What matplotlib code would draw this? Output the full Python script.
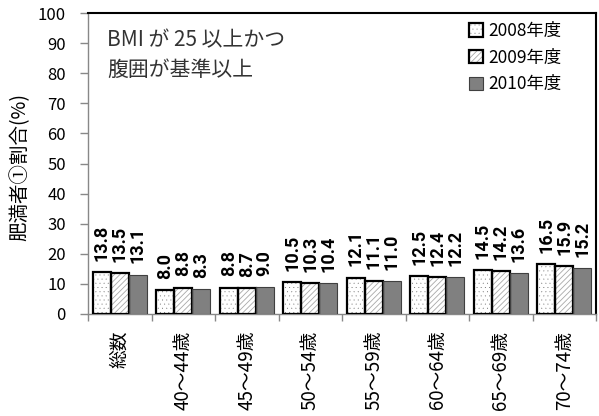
import matplotlib
matplotlib.use("Agg")
import matplotlib.pyplot as plt
import matplotlib.hatch as mhatch
import numpy as np
from matplotlib.patches import Patch

plt.rcParams['font.family'] = ['Noto Sans CJK JP', 'DejaVu Sans']
plt.rcParams['hatch.linewidth'] = 0.6
mhatch.SmallFilledCircles.size = 0.022

categories = ["総数", "40～44歳", "45～49歳", "50～54歳", "55～59歳", "60～64歳", "65～69歳", "70～74歳"]
series_names = ["2008年度", "2009年度", "2010年度"]
v2008 = [13.8, 8.0, 8.8, 10.5, 12.1, 12.5, 14.5, 16.5]
v2009 = [13.5, 8.8, 8.7, 10.3, 11.1, 12.4, 14.2, 15.9]
v2010 = [13.1, 8.3, 9.0, 10.4, 11.0, 12.2, 13.6, 15.2]
yticks = [0, 10, 20, 30, 40, 50, 60, 70, 80, 90, 100]
ylabel = "肥満者①割合(%)"
note_lines = ["BMI が 25 以上かつ", "腹囲が基準以上"]

W, H = 599, 416
fig = plt.figure(figsize=(W / 100, H / 100), dpi=100)
ax = fig.add_axes([88 / W, 1 - 314 / H, (596 - 88) / W, (314 - 13) / H])

x = np.arange(len(categories))
bw = 0.85 / 3
offsets = [-bw, 0, bw]

styles = [
    dict(face="white", hatch="....", hcol="#000000", edge="black", lw=1.6),
    dict(face="white", hatch="//////", hcol="#a8a8a8", edge="black", lw=1.6),
    dict(face="#808080", hatch=None, hcol="#808080", edge="#404040", lw=0.8),
]
handles = []
for vals, off, st in zip([v2008, v2009, v2010], offsets, styles):
    ax.bar(x + off, vals, width=bw, color=st["face"], hatch=st["hatch"],
           edgecolor=st["hcol"], linewidth=0, zorder=2)
    ax.bar(x + off, vals, width=bw, fill=False, edgecolor=st["edge"],
           linewidth=st["lw"], zorder=3)
    for xi, v in zip(x + off, vals):
        ax.annotate(f"{v:.1f}", (xi, v), xytext=(0, 8), textcoords="offset points",
                    rotation=90, ha="center", va="bottom", fontsize=13,
                    fontweight="bold", family=["Roboto", "DejaVu Sans"], color="black")
    h1 = Patch(facecolor=st["face"], hatch=st["hatch"], edgecolor=st["hcol"], linewidth=0)
    h2 = Patch(fill=False, edgecolor=st["edge"], linewidth=st["lw"])
    handles.append((h1, h2))

ax.set_xlim(-0.5, len(categories) - 0.5)
ax.set_ylim(0, 100)
ax.set_yticks(yticks)
ax.set_yticklabels([str(t) for t in yticks], fontsize=12)
ax.tick_params(axis="y", direction="out", length=6, width=1, color="#888888", pad=10)

ax.set_xticks(x)
ax.set_xticklabels(categories, rotation=90, fontsize=13.5, va="top", ha="center")
ax.tick_params(axis="x", length=0, pad=12)
ax.set_xticks(np.arange(-0.5, len(categories), 1.0), minor=True)
ax.tick_params(axis="x", which="minor", length=5, width=1, color="#888888")

for s in ["left", "bottom"]:
    ax.spines[s].set_color("#888888")
    ax.spines[s].set_linewidth(1)
for s in ["top", "right"]:
    ax.spines[s].set_color("black")
    ax.spines[s].set_linewidth(1.5)

fig.text(20 / W, 1 - 167 / H, ylabel, rotation=90, ha="center", va="center", fontsize=14)

fig.text(107 / W, 1 - 40 / H, note_lines[0], ha="left", va="center", fontsize=15, color="#333333")
fig.text(107 / W, 1 - 70 / H, note_lines[1], ha="left", va="center", fontsize=15, color="#333333")

ax.legend(handles, series_names, loc="upper left",
          bbox_to_anchor=(469 / W, 1 - 22 / H), bbox_transform=fig.transFigure,
          frameon=False, fontsize=12.5, handlelength=0.8, handleheight=0.8,
          handletextpad=0.3, labelspacing=0.5, borderpad=0, borderaxespad=0)

fig.savefig("out.png", dpi=100)
